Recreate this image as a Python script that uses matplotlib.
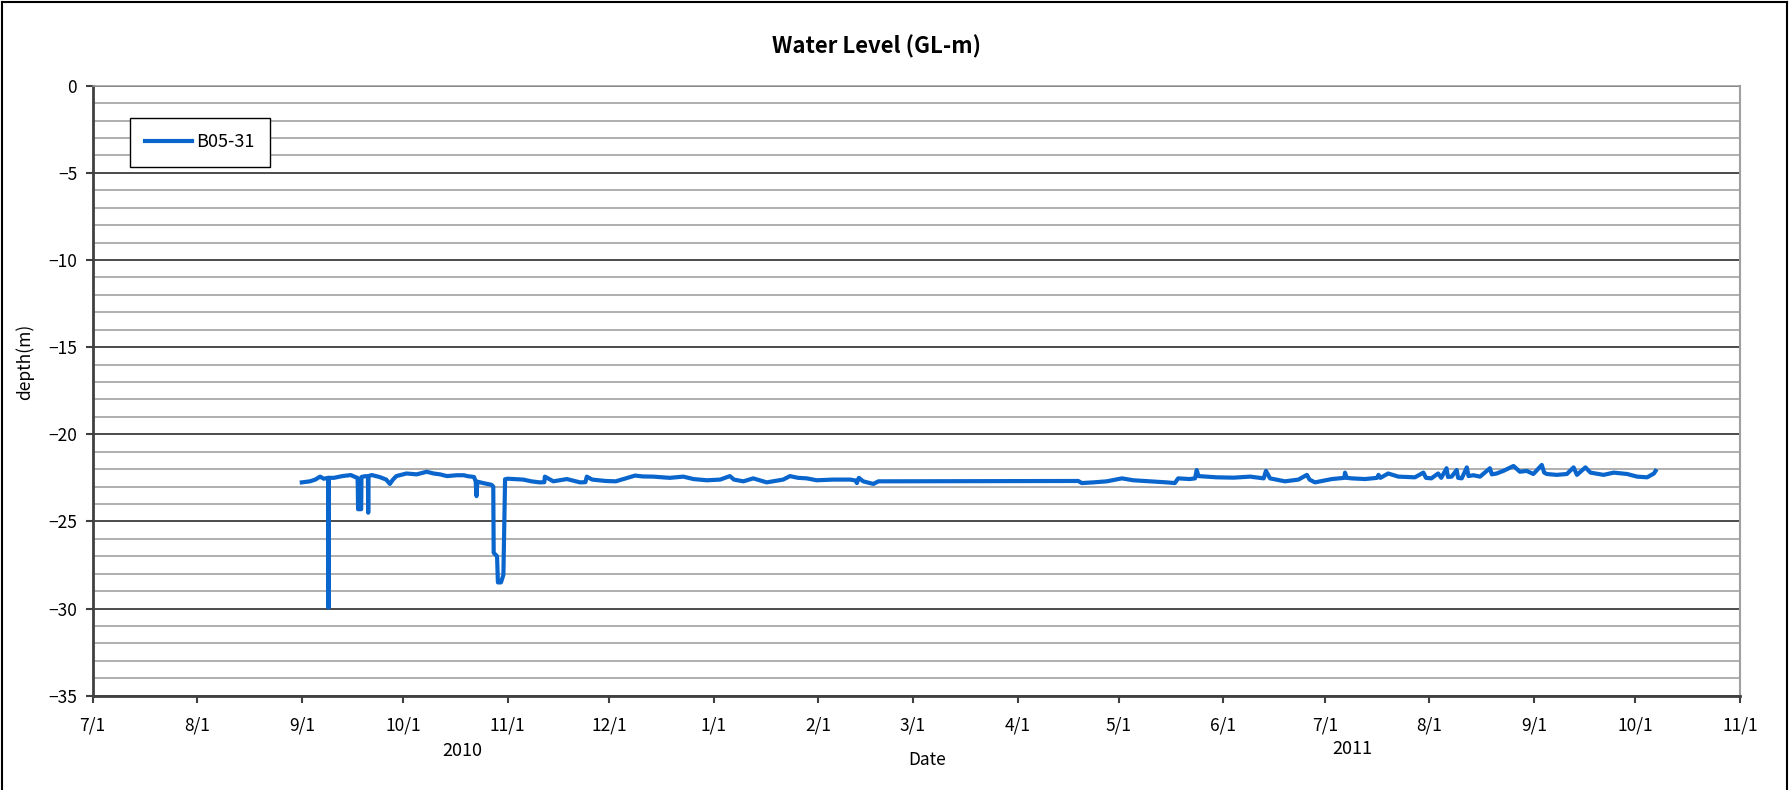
import matplotlib
matplotlib.use("Agg")
import matplotlib.pyplot as plt
import matplotlib.dates as mdates
from matplotlib.ticker import MultipleLocator, FuncFormatter
import pandas as pd
from matplotlib.lines import Line2D

plt.rcParams['font.family'] = ['Noto Sans CJK JP', 'DejaVu Sans']

series_name = "B05-31"
title = "Water Level (GL-m)"
y_label = "depth(m)"
x_label = "Date"
year_labels = ["2010", "2011"]

dates = [
    "2010-09-01 00:00", "2010-09-03 10:00", "2010-09-05 00:00", "2010-09-06 10:00",
    "2010-09-07 12:00", "2010-09-08 21:00", "2010-09-08 22:00", "2010-09-08 23:00",
    "2010-09-10 12:00", "2010-09-13 00:00", "2010-09-15 12:00", "2010-09-16 19:00",
    "2010-09-17 12:00", "2010-09-17 14:00", "2010-09-17 16:00", "2010-09-18 14:00",
    "2010-09-18 16:00", "2010-09-19 20:00", "2010-09-20 14:00", "2010-09-20 16:00",
    "2010-09-20 18:00", "2010-09-21 17:00", "2010-09-24 00:00", "2010-09-26 00:00",
    "2010-09-27 02:00", "2010-09-28 00:00", "2010-09-29 00:00", "2010-10-02 00:00",
    "2010-10-05 00:00", "2010-10-08 00:00", "2010-10-10 00:00", "2010-10-11 22:00",
    "2010-10-14 00:00", "2010-10-16 22:00", "2010-10-19 00:00", "2010-10-20 00:00",
    "2010-10-22 00:00", "2010-10-22 12:00", "2010-10-22 18:00", "2010-10-23 00:00",
    "2010-10-24 17:00", "2010-10-26 00:00", "2010-10-27 05:00", "2010-10-27 17:00",
    "2010-10-27 20:00", "2010-10-28 20:00", "2010-10-29 02:00", "2010-10-30 00:00",
    "2010-10-30 17:00", "2010-10-31 05:00", "2010-11-01 00:00", "2010-11-05 14:00",
    "2010-11-08 00:00", "2010-11-10 12:00", "2010-11-11 20:00", "2010-11-12 00:00",
    "2010-11-14 12:00", "2010-11-18 12:00", "2010-11-22 10:00", "2010-11-24 00:00",
    "2010-11-24 10:00", "2010-11-26 00:00", "2010-11-30 00:00", "2010-12-03 00:00",
    "2010-12-06 00:00", "2010-12-08 17:00", "2010-12-11 00:00", "2010-12-14 00:00",
    "2010-12-19 00:00", "2010-12-23 00:00", "2010-12-26 00:00", "2010-12-30 00:00",
    "2011-01-02 22:00", "2011-01-05 19:00", "2011-01-07 00:00", "2011-01-09 19:00",
    "2011-01-12 17:00", "2011-01-16 17:00", "2011-01-21 14:00", "2011-01-23 14:00",
    "2011-01-26 00:00", "2011-01-28 14:00", "2011-01-31 12:00", "2011-02-05 10:00",
    "2011-02-10 10:00", "2011-02-12 00:00", "2011-02-12 10:00", "2011-02-13 00:00",
    "2011-02-14 07:00", "2011-02-17 07:00", "2011-02-18 19:00", "2011-04-19 00:00",
    "2011-04-20 00:00", "2011-04-23 10:00", "2011-04-27 10:00", "2011-05-01 22:00",
    "2011-05-05 07:00", "2011-05-10 05:00", "2011-05-15 05:00", "2011-05-17 14:00",
    "2011-05-18 14:00", "2011-05-22 00:00", "2011-05-23 14:00", "2011-05-24 02:00",
    "2011-05-24 14:00", "2011-05-30 00:00", "2011-06-04 00:00", "2011-06-08 22:00",
    "2011-06-12 22:00", "2011-06-13 14:00", "2011-06-14 19:00", "2011-06-19 05:00",
    "2011-06-23 05:00", "2011-06-25 17:00", "2011-06-26 12:00", "2011-06-28 02:00",
    "2011-07-03 02:00", "2011-07-06 19:00", "2011-07-07 00:00", "2011-07-07 12:00",
    "2011-07-09 00:00", "2011-07-12 22:00", "2011-07-16 12:00", "2011-07-16 22:00",
    "2011-07-17 12:00", "2011-07-19 19:00", "2011-07-22 19:00", "2011-07-27 17:00",
    "2011-07-30 05:00", "2011-07-31 00:00", "2011-08-01 14:00", "2011-08-03 14:00",
    "2011-08-04 12:00", "2011-08-06 02:00", "2011-08-06 12:00", "2011-08-07 14:00",
    "2011-08-09 02:00", "2011-08-09 12:00", "2011-08-10 14:00", "2011-08-12 02:00",
    "2011-08-12 14:00", "2011-08-14 00:00", "2011-08-16 00:00", "2011-08-18 22:00",
    "2011-08-19 12:00", "2011-08-20 22:00", "2011-08-22 22:00", "2011-08-25 22:00",
    "2011-08-27 19:00", "2011-08-29 19:00", "2011-08-31 19:00", "2011-09-03 07:00",
    "2011-09-04 00:00", "2011-09-04 19:00", "2011-09-07 17:00", "2011-09-10 17:00",
    "2011-09-12 17:00", "2011-09-13 17:00", "2011-09-16 05:00", "2011-09-17 17:00",
    "2011-09-21 14:00", "2011-09-24 14:00", "2011-09-28 14:00", "2011-10-01 12:00",
    "2011-10-04 12:00", "2011-10-06 12:00", "2011-10-07 00:00",
]

depth = [
    -22.76, -22.70, -22.60, -22.43,
    -22.55, -22.50, -29.95, -22.50,
    -22.50, -22.40, -22.34, -22.45,
    -22.50, -22.95, -24.30, -24.30,
    -22.45, -22.40, -22.45, -24.50,
    -22.40, -22.34, -22.45, -22.60,
    -22.85, -22.60, -22.40, -22.25,
    -22.30, -22.15, -22.25, -22.30,
    -22.40, -22.35, -22.35, -22.40,
    -22.45, -22.70, -23.55, -22.72,
    -22.80, -22.85, -22.90, -23.00,
    -26.80, -27.00, -28.50, -28.50,
    -28.07, -22.58, -22.55, -22.60,
    -22.70, -22.76, -22.75, -22.43,
    -22.70, -22.57, -22.76, -22.75,
    -22.43, -22.60, -22.68, -22.70,
    -22.53, -22.37, -22.42, -22.43,
    -22.50, -22.43, -22.57, -22.64,
    -22.60, -22.40, -22.60, -22.70,
    -22.53, -22.76, -22.60, -22.40,
    -22.50, -22.53, -22.64, -22.60,
    -22.60, -22.65, -22.80, -22.50,
    -22.70, -22.85, -22.70, -22.68,
    -22.80, -22.76, -22.70, -22.53,
    -22.64, -22.70, -22.76, -22.80,
    -22.53, -22.57, -22.53, -22.05,
    -22.40, -22.47, -22.49, -22.43,
    -22.53, -22.10, -22.53, -22.70,
    -22.60, -22.33, -22.60, -22.76,
    -22.57, -22.50, -22.20, -22.50,
    -22.53, -22.57, -22.50, -22.33,
    -22.50, -22.25, -22.43, -22.47,
    -22.20, -22.50, -22.53, -22.25,
    -22.50, -21.95, -22.45, -22.43,
    -22.05, -22.50, -22.53, -21.90,
    -22.40, -22.35, -22.43, -21.95,
    -22.30, -22.25, -22.10, -21.82,
    -22.15, -22.10, -22.28, -21.76,
    -22.20, -22.28, -22.33, -22.28,
    -21.90, -22.33, -21.90, -22.20,
    -22.33, -22.20, -22.28, -22.43,
    -22.47, -22.25, -22.10,
]

x_start, x_end = "2010-07-01", "2011-11-01"
y_min, y_max = -35, 0

W, H = 1791, 790
fig = plt.figure(figsize=(W / 100, H / 100), dpi=100)

# outer chart border
fig.add_artist(Line2D([1.5 / W, 1.5 / W], [0, 1 - 1.5 / H], color="black", lw=1.5))
fig.add_artist(Line2D([1.5 / W, 1 - 4.5 / W], [1 - 1.5 / H, 1 - 1.5 / H], color="black", lw=1.5))
fig.add_artist(Line2D([1 - 4.5 / W, 1 - 4.5 / W], [0, 1 - 1.5 / H], color="black", lw=1.5))

left, right, top, bottom = 92.5, 1740, 85.7, 695.7
ax = fig.add_axes([left / W, 1 - bottom / H, (right - left) / W, (bottom - top) / H])

x = pd.to_datetime(dates)
line, = ax.plot(x, depth, color="#0A66CC", lw=3.0, solid_joinstyle="round", label=series_name, zorder=3)

ax.set_xlim(pd.Timestamp(x_start), pd.Timestamp(x_end))
ax.set_ylim(y_min, y_max)

ax.yaxis.set_major_locator(MultipleLocator(5))
ax.yaxis.set_minor_locator(MultipleLocator(1))
ax.grid(which="minor", axis="y", color="#9a9a9a", lw=1.1)
ax.grid(which="major", axis="y", color="#1a1a1a", lw=1.1)
ax.set_axisbelow(True)

ax.xaxis.set_major_locator(mdates.MonthLocator(bymonthday=1))
ax.xaxis.set_major_formatter(FuncFormatter(lambda v, p: f"{mdates.num2date(v).month}/{mdates.num2date(v).day}"))

for s in ["left", "bottom"]:
    ax.spines[s].set_color("#404040")
    ax.spines[s].set_linewidth(2.0)
ax.spines["right"].set_color("#a0a0a0")
ax.spines["right"].set_linewidth(1.5)
ax.spines["top"].set_color("#9a9a9a")
ax.spines["top"].set_linewidth(1.1)

ax.tick_params(axis="both", which="major", direction="out", length=5, width=1.5, color="#404040",
               labelsize=12.5, pad=6)
ax.tick_params(axis="y", which="minor", length=0)
ax.tick_params(axis="x", pad=10)

fig.text(876 / W, 1 - 47 / H, title, ha="center", va="center", fontsize=16, fontweight="bold")
fig.text(25 / W, 1 - 362 / H, y_label, ha="center", va="center", rotation=90, fontsize=12.5)
fig.text(927 / W, 1 - 760 / H, x_label, ha="center", va="center", fontsize=12.5)
fig.text(462 / W, 1 - 751 / H, year_labels[0], ha="center", va="center", fontsize=13)
fig.text(1352 / W, 1 - 749 / H, year_labels[1], ha="center", va="center", fontsize=13)

leg = ax.legend(handles=[line], loc="upper left",
                bbox_to_anchor=((130 - left) / (right - left), 1 - (118 - top) / (bottom - top)),
                frameon=True, fancybox=False, edgecolor="black", framealpha=1, fontsize=13,
                handlelength=2.6, handletextpad=0.2, borderpad=0.85, borderaxespad=0)
leg.get_frame().set_linewidth(1.0)
leg.get_lines()[0].set_linewidth(3)

fig.savefig("out.png", dpi=100, facecolor="white")
